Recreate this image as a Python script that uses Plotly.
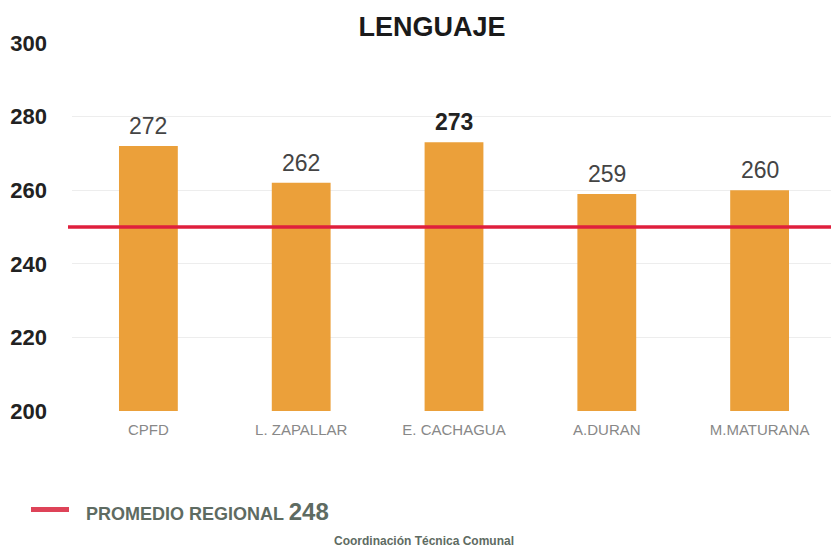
import plotly.graph_objects as go

categories = ["CPFD", "L. ZAPALLAR", "E. CACHAGUA", "A.DURAN", "M.MATURANA"]
scores = [272, 262, 273, 259, 260]
highlight = [False, False, True, False, False]
regional_line_value = 250
regional_label = 248
y_ticks = [200, 220, 240, 260, 280, 300]

BAR = "#EBA03A"
FONT = "Liberation Sans, Arial, sans-serif"

# page has an 8px body margin; figure is sized so it ends at the window edge
W, H = 831, 541
PL, PT, PW, PH = 72, 42.7, 764, 368.3   # plot area in window pixels


def px(x):
    return (x - PL) / PW


def py(y):
    return (PT + PH - y) / PH


fig = go.Figure()
fig.add_trace(go.Bar(
    x=categories, y=scores, marker=dict(color=BAR, line=dict(width=0)),
    showlegend=False, hoverinfo="skip",
))

for c, v, h in zip(categories, scores, highlight):
    fig.add_annotation(
        x=c, y=v, xref="x", yref="y", yanchor="bottom", yshift=5,
        text=f"<b>{v}</b>" if h else str(v), showarrow=False,
        font=dict(size=23, color="#222" if h else "#444", family=FONT),
    )

fig.add_shape(type="line", xref="paper", yref="y", x0=px(68), x1=1.01,
              y0=regional_line_value, y1=regional_line_value,
              line=dict(color="#DF1F3D", width=3.5), layer="above")

# legend
leg_y = py(509.5)
fig.add_shape(type="line", xref="paper", yref="paper",
              x0=px(31), x1=px(69), y0=leg_y, y1=leg_y,
              line=dict(color="#DE4358", width=5))
fig.add_annotation(
    xref="paper", yref="paper", x=px(84), y=py(512), xanchor="left", yanchor="middle",
    text=f"<b>PROMEDIO REGIONAL <span style='font-size:24px'>{regional_label}</span></b>",
    showarrow=False, font=dict(size=18, color="#5E6B62", family=FONT),
)
fig.add_annotation(
    xref="paper", yref="paper", x=px(424), y=py(541.5),
    xanchor="center", yanchor="middle", text="<b>Coordinación Técnica Comunal</b>",
    showarrow=False, font=dict(size=12, color="#5E6B62", family=FONT),
)

fig.update_layout(
    width=W, height=H,
    margin=dict(l=PL - 8, r=W - (PL - 8) - PW, t=PT - 8, b=H - (PT - 8) - PH),
    paper_bgcolor="white", plot_bgcolor="white",
    title=dict(text="<b>LENGUAJE</b>", x=(432 - 8) / W, xanchor="center",
               y=1 - (27 - 8) / H, yanchor="middle",
               font=dict(size=27, color="#1a1a1a", family=FONT)),
    bargap=0.615,
    xaxis=dict(showgrid=False, showline=False, ticks="", ticklabelstandoff=8,
               tickfont=dict(size=15, color="#888", family=FONT)),
    yaxis=dict(range=[200, 300], tickvals=y_ticks,
               ticktext=[f"<b>{t}</b>" for t in y_ticks],
               tickfont=dict(size=22, color="#222", family=FONT),
               showgrid=True, gridcolor="#EDEDED", gridwidth=1,
               zeroline=False, showline=False, ticklabelstandoff=24),
)

fig.write_html("out.html")
